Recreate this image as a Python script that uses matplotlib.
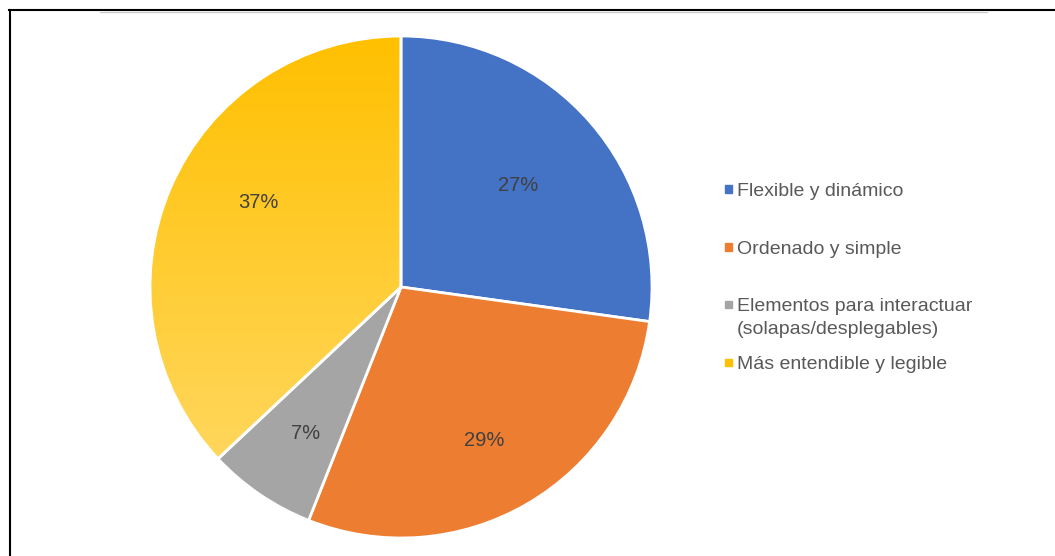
import numpy as np
import matplotlib.pyplot as plt
from matplotlib.colors import LinearSegmentedColormap
from matplotlib.lines import Line2D

plt.rcParams['font.family'] = ['Liberation Sans', 'DejaVu Sans']

categorias = ['Flexible y dinámico', 'Ordenado y simple',
              'Elementos para interactuar\n(solapas/desplegables)',
              'Más entendible y legible']
valores = [27.2, 28.8, 7.0, 37.0]
colores = ['#4472C4', '#ED7D31', '#A5A5A5', '#FFC000']

W, H = 1055, 556
fig = plt.figure(figsize=(W / 100, H / 100), dpi=100)

# pie centre and radius in pixels
cx, cy, r = 401, 287, 251
ax = fig.add_axes([(cx - r) / W, (H - cy - r) / H, 2 * r / W, 2 * r / H])

wedges, _ = ax.pie(valores, colors=colores, startangle=90, counterclock=False,
                   radius=1, wedgeprops=dict(edgecolor='white', linewidth=2))

# gradient on the yellow slice
cmap = LinearSegmentedColormap.from_list('amarillo', ['#FFDB6E', '#FFC000'])
grad = np.linspace(0, 1, 256).reshape(-1, 1)
img = ax.imshow(grad, cmap=cmap, extent=(-1, 1, -1, 1), origin='lower',
                aspect='auto', zorder=0.5)
img.set_clip_path(wedges[3])
wedges[3].set_facecolor('none')
wedges[3].set_zorder(1)
ax.set_xlim(-1, 1)
ax.set_ylim(-1, 1)
ax.set_aspect('equal')
ax.axis('off')

# percentage labels (excel "best fit" placement)
dist = [0.617, 0.697, 0.696, 0.66]
giro = [0, -1.9, 0.9, -7.3]
acum = 0
for v, d, g in zip(valores, dist, giro):
    ang = np.deg2rad(90 - (acum + v / 2) * 3.6 + g)
    acum += v
    ax.text(d * np.cos(ang), d * np.sin(ang), f'{v:.0f}%', ha='center', va='center',
            fontsize=14.5, color='#404040', zorder=3)

# legend drawn by hand
filas = [189, 247, 304, 362]
for cat, col, y in zip(categorias, colores, filas):
    yf = 1 - y / H
    fig.patches.append(plt.Rectangle((725 / W, yf - 3.5 / H), 7 / W, 7 / H,
                                     transform=fig.transFigure, color=col))
    for i, linea in enumerate(cat.split('\n')):
        fig.text(737 / W, 1 - (y + 7 + 23 * i) / H, linea, fontsize=14,
                 color='#595959', ha='left', va='baseline')

# frame lines from the screenshot
fig.add_artist(Line2D([9 / W, 1], [1 - 10 / H] * 2, color='black', lw=1.5))
fig.add_artist(Line2D([100 / W, 987 / W], [1 - 11.5 / H] * 2, color='#cccccc', lw=1))
fig.add_artist(Line2D([9.5 / W] * 2, [0, 1 - 10 / H], color='black', lw=1.5))

fig.savefig('out.png', dpi=100)
